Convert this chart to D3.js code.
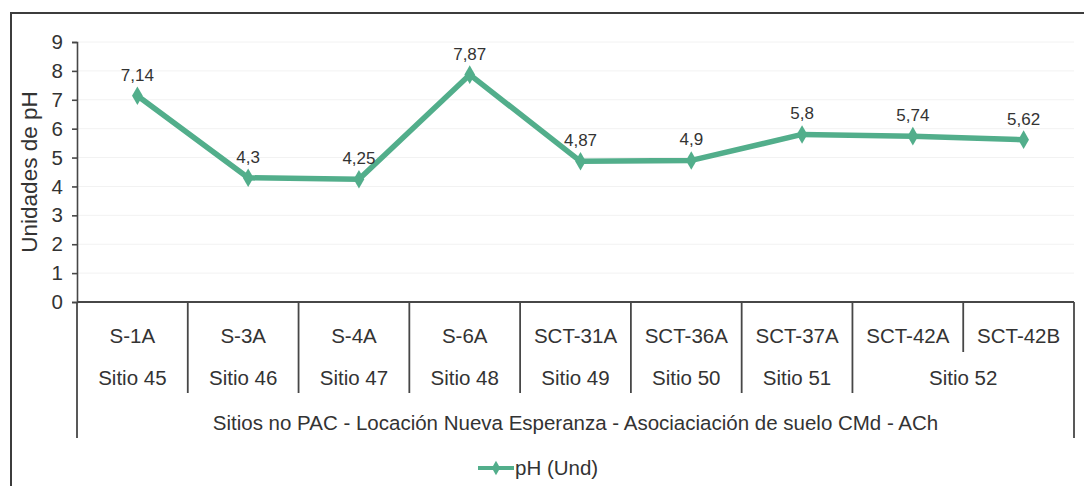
<!DOCTYPE html>
<html>
<head>
<meta charset="utf-8">
<script src="https://cdn.jsdelivr.net/npm/d3@7"></script>
<style>
  html, body { margin: 0; padding: 0; background: #ffffff; }
  svg { display: block; font-family: "Liberation Sans", Arial, sans-serif; }
</style>
</head>
<body>
<svg id="chart" width="1084" height="486"></svg>
<script>
// Sample codes, site names and measured pH per sample
const codes = ["S-1A", "S-3A", "S-4A", "S-6A", "SCT-31A", "SCT-36A", "SCT-37A", "SCT-42A", "SCT-42B"];
const sites = ["Sitio 45", "Sitio 46", "Sitio 47", "Sitio 48", "Sitio 49", "Sitio 50", "Sitio 51", "Sitio 52", "Sitio 52"];
const phValues = [7.14, 4.3, 4.25, 7.87, 4.87, 4.9, 5.8, 5.74, 5.62];
const yTicks = [0, 1, 2, 3, 4, 5, 6, 7, 8, 9];
const groupLabel = "Sitios no PAC - Locación Nueva Esperanza - Asociaciación de suelo CMd - ACh";
const seriesName = "pH (Und)";
const yTitle = "Unidades de pH";

const svg = d3.select("#chart");
const lineColor = "#52ae8b";
const inkColor = "#333333";
const ruleColor = "#474747";

const plot = { left: 77, right: 1074, top: 42, bottom: 302 };

const x = d3.scaleBand().domain(d3.range(codes.length)).range([plot.left, plot.right]).padding(0);
const y = d3.scaleLinear().domain([0, 9]).range([plot.bottom, plot.top]);
const pointShift = 5;
const px = i => x(i) + x.bandwidth() / 2 + pointShift;
const fmt = v => String(v).replace(".", ",");

// Outer frame
svg.append("path")
  .attr("d", `M11,486 L11,13 L1084,13`)
  .attr("fill", "none").attr("stroke", "#3c3c3c").attr("stroke-width", 2);

// Faint gridlines
svg.append("g").selectAll("line").data(yTicks.filter(t => t > 0)).join("line")
  .attr("x1", plot.left).attr("x2", plot.right)
  .attr("y1", d => y(d)).attr("y2", d => y(d))
  .attr("stroke", "#f2f2f2").attr("stroke-width", 1);

// Y axis
const yAxis = svg.append("g")
  .attr("transform", `translate(${plot.left},0)`)
  .call(d3.axisLeft(y).tickValues(yTicks).tickSize(5).tickPadding(9).tickFormat(d3.format("d")));
yAxis.select(".domain").attr("stroke", ruleColor).attr("stroke-width", 1.6);
yAxis.selectAll(".tick line").attr("stroke", ruleColor).attr("stroke-width", 1.6);
yAxis.selectAll(".tick text")
  .attr("fill", inkColor).attr("font-size", 20.5)
  .attr("font-family", "Liberation Sans, Arial, sans-serif");

svg.append("text")
  .attr("transform", `translate(37,${(plot.top + plot.bottom) / 2}) rotate(-90)`)
  .attr("text-anchor", "middle")
  .attr("font-size", 22.5)
  .attr("fill", inkColor)
  .text(yTitle);

// Category table below the axis
const rowCode = 336, rowSite = 378, rowGroup = 423;
const cellFont = 20.5;
const table = svg.append("g");
table.append("line")
  .attr("x1", plot.left).attr("x2", plot.right)
  .attr("y1", plot.bottom).attr("y2", plot.bottom)
  .attr("stroke", ruleColor).attr("stroke-width", 2);

// Outer left/right rules span every row
[plot.left, plot.right].forEach(xx => {
  table.append("line")
    .attr("x1", xx).attr("x2", xx)
    .attr("y1", plot.bottom).attr("y2", 438)
    .attr("stroke", ruleColor).attr("stroke-width", 1.8);
});

// Inner dividers: full height when the site changes, code row only otherwise
d3.range(1, codes.length).forEach(i => {
  const sameSite = sites[i] === sites[i - 1];
  table.append("line")
    .attr("x1", x(i)).attr("x2", x(i))
    .attr("y1", plot.bottom).attr("y2", sameSite ? 352 : 393)
    .attr("stroke", ruleColor).attr("stroke-width", 1.8);
});

table.selectAll("text.code").data(codes).join("text")
  .attr("class", "code")
  .attr("x", (d, i) => x(i) + x.bandwidth() / 2)
  .attr("y", rowCode)
  .attr("dy", "0.35em")
  .attr("text-anchor", "middle")
  .attr("font-size", cellFont)
  .attr("fill", inkColor)
  .text(d => d);

// Merge consecutive equal site names into one cell
const siteGroups = [];
sites.forEach((s, i) => {
  const last = siteGroups[siteGroups.length - 1];
  if (last && last.name === s) last.end = i;
  else siteGroups.push({ name: s, start: i, end: i });
});
table.selectAll("text.site").data(siteGroups).join("text")
  .attr("class", "site")
  .attr("x", d => (x(d.start) + x(d.end) + x.bandwidth()) / 2)
  .attr("y", rowSite)
  .attr("dy", "0.35em")
  .attr("text-anchor", "middle")
  .attr("font-size", cellFont)
  .attr("fill", inkColor)
  .text(d => d.name);

table.append("text")
  .attr("x", (plot.left + plot.right) / 2)
  .attr("y", rowGroup)
  .attr("dy", "0.35em")
  .attr("text-anchor", "middle")
  .attr("font-size", cellFont)
  .attr("fill", inkColor)
  .text(groupLabel);

// pH series
const line = d3.line().x((d, i) => px(i)).y(d => y(d));
svg.append("path")
  .datum(phValues)
  .attr("d", line)
  .attr("fill", "none")
  .attr("stroke", lineColor)
  .attr("stroke-width", 5.5)
  .attr("stroke-linejoin", "round");

const diamond = d3.symbol().type(d3.symbolDiamond).size(100);
svg.append("g").selectAll("path").data(phValues).join("path")
  .attr("transform", (d, i) => `translate(${px(i)},${y(d)})`)
  .attr("d", diamond)
  .attr("fill", lineColor);

svg.append("g").selectAll("text").data(phValues).join("text")
  .attr("x", (d, i) => px(i))
  .attr("y", d => y(d) - 21)
  .attr("dy", "0.35em")
  .attr("text-anchor", "middle")
  .attr("font-size", 17)
  .attr("fill", inkColor)
  .text(d => fmt(d));

// Legend
const legY = 468;
const legend = svg.append("g");
legend.append("line")
  .attr("x1", 478).attr("x2", 514)
  .attr("y1", legY).attr("y2", legY)
  .attr("stroke", lineColor).attr("stroke-width", 4);
legend.append("path")
  .attr("transform", `translate(496,${legY})`)
  .attr("d", d3.symbol().type(d3.symbolDiamond).size(60))
  .attr("fill", lineColor);
legend.append("text")
  .attr("x", 515).attr("y", legY)
  .attr("dy", "0.35em")
  .attr("font-size", 20.5)
  .attr("fill", inkColor)
  .text(seriesName);
</script>
</body>
</html>
